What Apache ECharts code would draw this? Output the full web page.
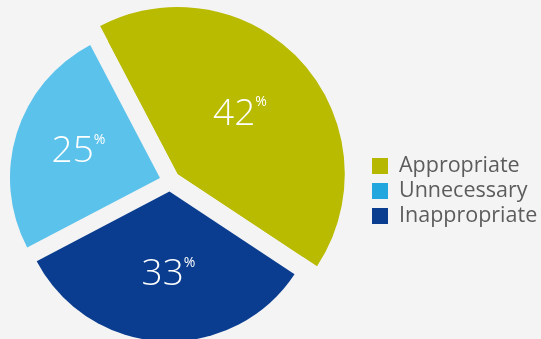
<!DOCTYPE html>
<html>
<head>
<meta charset="utf-8">
<script src="https://cdn.jsdelivr.net/npm/echarts@6/dist/echarts.min.js"></script>
<style>
  html, body { margin: 0; padding: 0; background: #f4f4f4; }
  #main { width: 541px; height: 339px; }
</style>
</head>
<body>
<div id="main"></div>
<script>
// data
var categories = ["Appropriate", "Unnecessary", "Inappropriate"];
var shares = [42, 25, 33];

var sliceColors = ["#b9bb00", "#5bc2eb", "#0a3d8f"];
var legendColors = ["#b6b800", "#22a6de", "#0a3d8f"];
// small nudges of the percentage labels away from the slice middle
var labelNudge = [[-2, -2], [-7, -3], [3, 5]];

var myChart = echarts.init(document.getElementById("main"));

var labelStyle = {
  position: "inside",
  formatter: "{v|{c}}{p|%}",
  rich: {
    v: { fontFamily: "Open Sans", fontSize: 37, fontWeight: 300, color: "#fff", lineHeight: 37 },
    p: { fontFamily: "Open Sans", fontSize: 14, color: "#fff", verticalAlign: "top", lineHeight: 14 }
  }
};

var baseData = categories.map(function (name, i) {
  return {
    name: name,
    value: shares[i],
    selected: true,
    itemStyle: { color: sliceColors[i] },
    label: { show: i !== 0 }
  };
});

// the Appropriate wedge has a bigger radius than the other two
var bigData = [
  {
    name: categories[0],
    value: shares[0],
    selected: true,
    itemStyle: { color: sliceColors[0] },
    label: { show: true }
  },
  {
    name: "rest",
    value: shares[1] + shares[2],
    itemStyle: { color: "rgba(0,0,0,0)" },
    label: { show: false }
  }
];

var option = {
  animation: false,
  backgroundColor: "#f4f4f4",
  legend: {
    orient: "vertical",
    left: 372,
    top: 155,
    padding: 0,
    itemWidth: 16,
    itemHeight: 16,
    itemGap: 3,
    icon: "rect",
    selectedMode: false,
    textStyle: { fontFamily: "Open Sans", fontSize: 21.5, color: "#5c5c5c", padding: [0, 0, 0, 6] },
    data: categories.map(function (name, i) {
      return { name: name, itemStyle: { color: legendColors[i] } };
    })
  },
  series: [
    {
      type: "pie",
      center: [170, 181],
      radius: 150,
      startAngle: -33.5,
      clockwise: false,
      selectedMode: "multiple",
      selectedOffset: 10.5,
      emphasis: { disabled: true },
      label: labelStyle,
      labelLine: { show: false },
      labelLayout: function (params) {
        var n = labelNudge[params.dataIndex];
        return { dx: n[0], dy: n[1] };
      },
      data: baseData
    },
    {
      type: "pie",
      z: 3,
      center: [170, 181],
      radius: 167,
      startAngle: -33.5,
      clockwise: false,
      selectedMode: "multiple",
      selectedOffset: 10.5,
      silent: true,
      emphasis: { disabled: true },
      label: labelStyle,
      labelLine: { show: false },
      labelLayout: function () {
        return { dx: labelNudge[0][0], dy: labelNudge[0][1] };
      },
      data: bigData
    }
  ]
};

myChart.setOption(option);
</script>
</body>
</html>
